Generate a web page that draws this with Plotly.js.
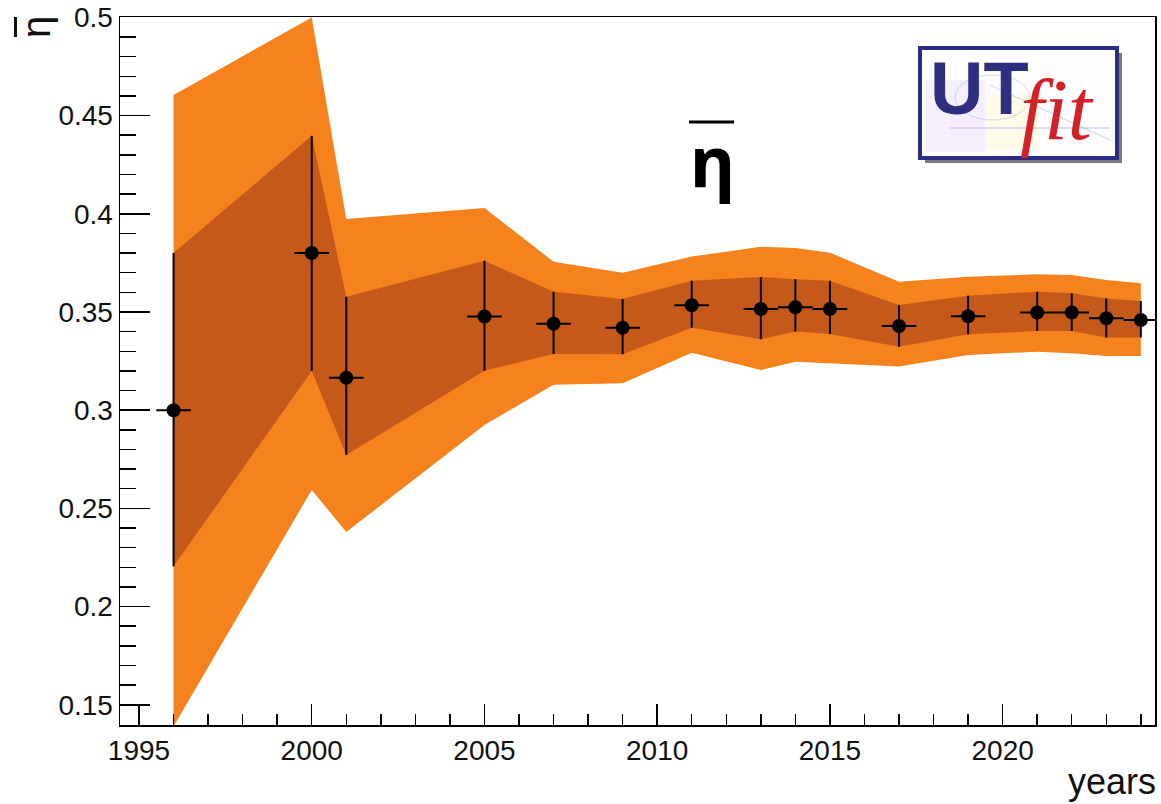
<!DOCTYPE html>
<html>
<head>
<meta charset="utf-8">
<script src="https://cdn.plot.ly/plotly-3.0.1.min.js"></script>
<style>html,body{margin:0;padding:0;background:#fff;}#chart{width:1161px;height:804px;}</style>
</head>
<body>
<div id="chart"></div>
<script>
// Data
const years = [1996, 2000, 2001, 2005, 2007, 2009, 2011, 2013, 2014, 2015, 2017, 2019, 2021, 2022, 2023, 2024];
const eta   = [0.300, 0.380, 0.3165, 0.3477, 0.344, 0.342, 0.3534, 0.3515, 0.3524, 0.3515, 0.3429, 0.3478, 0.3497, 0.3497, 0.3468, 0.3459];
// 68% band (dark) = error bars
const lo68  = [0.2205, 0.320, 0.2772, 0.3201, 0.3286, 0.3285, 0.342, 0.3361, 0.340, 0.3388, 0.3323, 0.3386, 0.3403, 0.3403, 0.337, 0.337];
const hi68  = [0.380, 0.4397, 0.3577, 0.3761, 0.3603, 0.3566, 0.3659, 0.3678, 0.3667, 0.3659, 0.3536, 0.3583, 0.3603, 0.3595, 0.3569, 0.3556];
// 95% band (light)
const lo95  = [0.139, 0.2594, 0.238, 0.2925, 0.3129, 0.3137, 0.3293, 0.3205, 0.3247, 0.3239, 0.3222, 0.3281, 0.3298, 0.329, 0.3276, 0.3276];
const hi95  = [0.4605, 0.500, 0.3973, 0.4029, 0.3756, 0.370, 0.3782, 0.3832, 0.3826, 0.3802, 0.3654, 0.368, 0.3692, 0.3688, 0.3663, 0.3646];
const yearHalfWidth = 0.5;

const xTickVals = [1995, 2000, 2005, 2010, 2015, 2020];
const yTickVals = [0.15, 0.2, 0.25, 0.3, 0.35, 0.4, 0.45, 0.5];
const yTickText = ['0.15', '0.2', '0.25', '0.3', '0.35', '0.4', '0.45', '0.5'];

const LIGHT = '#f6821e';
const DARK = '#c4591a';
const FONT = 'Liberation Sans, Arial, sans-serif';

const traces = [
  {x: years, y: hi95, mode: 'lines', line: {width: 0, color: LIGHT}, showlegend: false, hoverinfo: 'skip'},
  {x: years, y: lo95, mode: 'lines', line: {width: 0, color: LIGHT}, fill: 'tonexty', fillcolor: LIGHT, showlegend: false, hoverinfo: 'skip'},
  {x: years, y: hi68, mode: 'lines', line: {width: 0, color: DARK}, showlegend: false, hoverinfo: 'skip'},
  {x: years, y: lo68, mode: 'lines', line: {width: 0, color: DARK}, fill: 'tonexty', fillcolor: DARK, showlegend: false, hoverinfo: 'skip'},
  {
    x: years, y: eta, mode: 'markers', showlegend: false,
    marker: {color: '#000', size: 14},
    error_y: {type: 'data', symmetric: false,
      array: hi68.map((h, i) => h - eta[i]),
      arrayminus: lo68.map((l, i) => eta[i] - l),
      color: '#000', thickness: 2, width: 0},
    error_x: {type: 'constant', value: yearHalfWidth, color: '#000', thickness: 2, width: 0},
    cliponaxis: false
  }
];

const L = 120, R = 1155, T = 17, B = 725;
const px = v => (v - L) / (R - L);
const py = v => (B - v) / (B - T);

const layout = {
  width: 1161, height: 804,
  margin: {l: L, r: 1161 - R, t: T, b: 804 - B, pad: 0},
  paper_bgcolor: '#fff', plot_bgcolor: '#fff',
  showlegend: false, hovermode: false,
  font: {family: FONT, color: '#111'},
  xaxis: {
    range: [1994.45, 2024.41], tickmode: 'array', tickvals: xTickVals,
    ticks: 'inside', ticklen: 21, tickwidth: 1.5, tickcolor: '#000',
    minor: {dtick: 1, tick0: 1995, ticks: 'inside', ticklen: 11, tickwidth: 1.5, tickcolor: '#000', showgrid: false},
    showgrid: false, zeroline: false, showline: true, linecolor: '#000', linewidth: 1.5, mirror: true,
    tickfont: {family: FONT, size: 28, color: '#111'}
  },
  yaxis: {
    range: [0.1397, 0.5002], tickmode: 'array', tickvals: yTickVals, ticktext: yTickText,
    ticks: 'inside', ticklen: 30, tickwidth: 1.5, tickcolor: '#000',
    minor: {dtick: 0.01, tick0: 0.15, ticks: 'inside', ticklen: 16, tickwidth: 1.5, tickcolor: '#000', showgrid: false},
    showgrid: false, zeroline: false, showline: true, linecolor: '#000', linewidth: 1.5, mirror: true,
    tickfont: {family: FONT, size: 28, color: '#111'}
  },
  shapes: [
    // overline of the big eta label
    {type: 'line', xref: 'paper', yref: 'paper', x0: px(689), x1: px(734), y0: py(122), y1: py(122), line: {color: '#000', width: 3}},
    // overline of the rotated y-axis title
    {type: 'line', xref: 'paper', yref: 'paper', x0: px(15.5), x1: px(15.5), y0: py(17), y1: py(37), line: {color: '#111', width: 3}},
    // UTfit logo: shadow and frame
    {type: 'rect', xref: 'paper', yref: 'paper', x0: px(925), x1: px(1122), y0: py(163), y1: py(53), fillcolor: '#7a7a7a', line: {width: 0}},
    {type: 'rect', xref: 'paper', yref: 'paper', x0: px(920), x1: px(1117), y0: py(158), y1: py(48), fillcolor: '#fdfcff', line: {color: '#2b2b86', width: 4}},
    {type: 'rect', xref: 'paper', yref: 'paper', x0: px(926), x1: px(985), y0: py(152), y1: py(80), fillcolor: 'rgba(240,232,252,0.7)', line: {width: 0}},
    {type: 'rect', xref: 'paper', yref: 'paper', x0: px(985), x1: px(1040), y0: py(150), y1: py(95), fillcolor: 'rgba(252,250,225,0.7)', line: {width: 0}},
    {type: 'circle', xref: 'paper', yref: 'paper', x0: px(955), x1: px(1030), y0: py(120), y1: py(75), fillcolor: 'rgba(0,0,0,0)', line: {color: 'rgba(120,140,220,0.3)', width: 1}},
    {type: 'line', xref: 'paper', yref: 'paper', x0: px(950), x1: px(1110), y0: py(128), y1: py(128), line: {color: 'rgba(100,110,210,0.4)', width: 1}},
    {type: 'line', xref: 'paper', yref: 'paper', x0: px(990), x1: px(1110), y0: py(85), y1: py(140), line: {color: 'rgba(100,110,210,0.3)', width: 1}}
  ],
  annotations: [
    {text: 'η', xref: 'paper', yref: 'paper', x: px(36), y: py(27), xanchor: 'center', yanchor: 'middle', textangle: -90, showarrow: false,
     font: {family: FONT, size: 40, color: '#111'}},
    {text: 'years', xref: 'paper', yref: 'paper', x: px(1158), y: py(781), xanchor: 'right', yanchor: 'middle', showarrow: false,
     font: {family: FONT, size: 36, color: '#111'}},
    {text: '<b>η</b>', xref: 'paper', yref: 'paper', x: px(712), y: py(160), xanchor: 'center', yanchor: 'middle', showarrow: false,
     font: {family: 'Noto Sans, Open Sans, sans-serif', size: 70, color: '#000'}},
    {text: '<b>UT</b>', xref: 'paper', yref: 'paper', x: px(979), y: py(88), xanchor: 'center', yanchor: 'middle', showarrow: false,
     font: {family: FONT, size: 74, color: '#2e2f7e'}},
    {text: '<i>fit</i>', xref: 'paper', yref: 'paper', x: px(1057), y: py(110), xanchor: 'center', yanchor: 'middle', showarrow: false,
     font: {family: 'Liberation Serif, Times New Roman, serif', size: 86, color: '#d42027'}}
  ]
};

Plotly.newPlot('chart', traces, layout, {displayModeBar: false, staticPlot: true});
</script>
</body>
</html>
